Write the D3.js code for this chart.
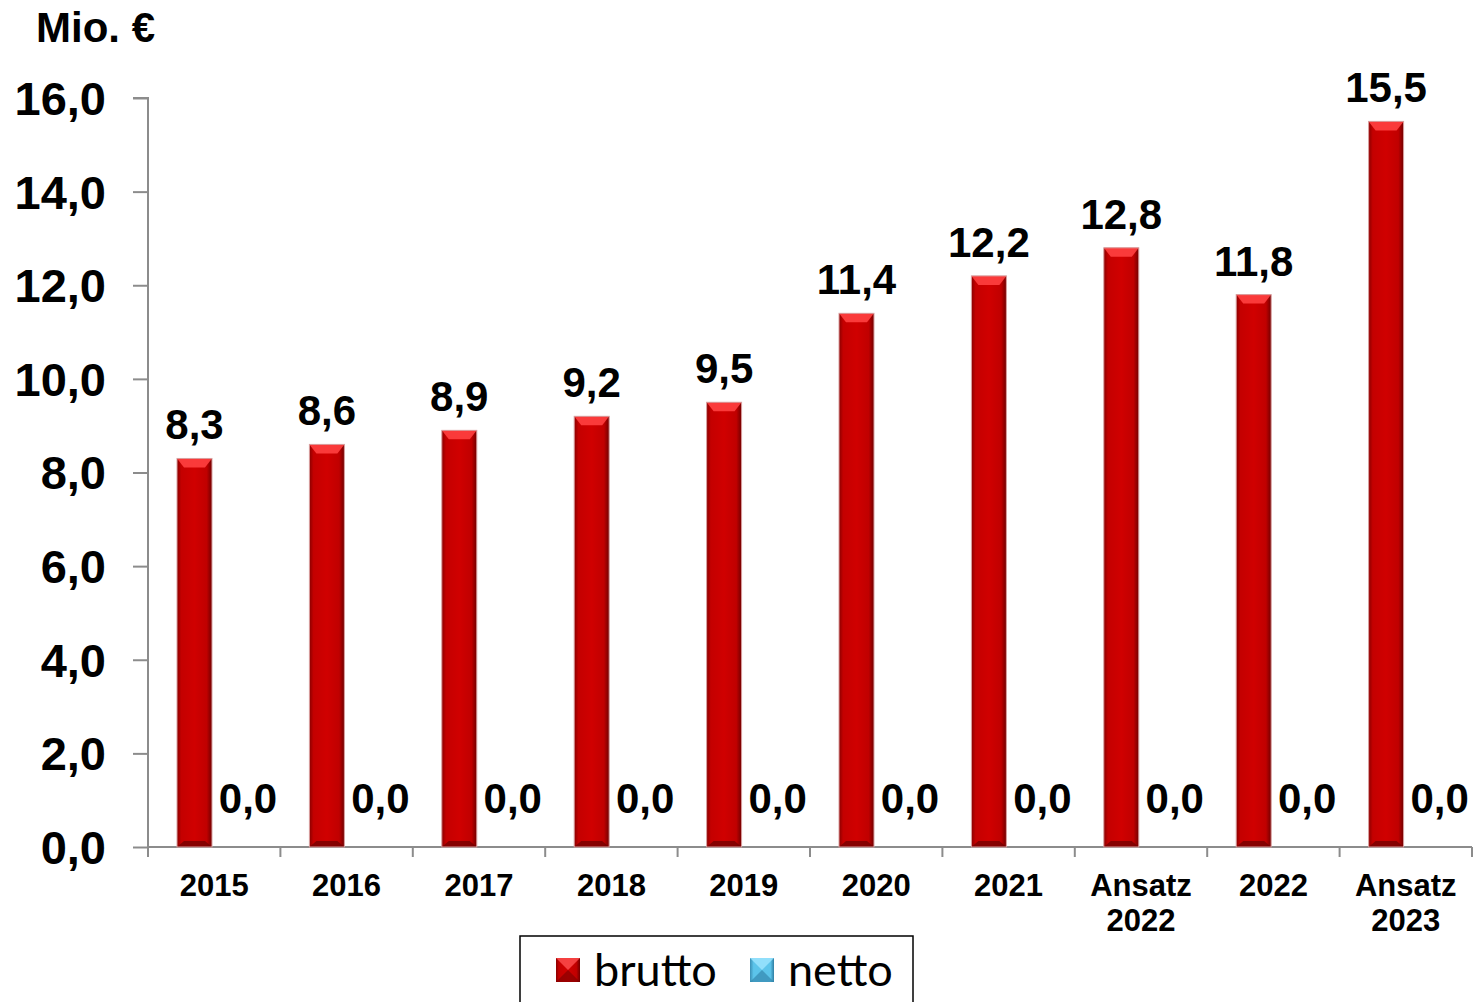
<!DOCTYPE html>
<html><head><meta charset="utf-8">
<script src="https://cdn.jsdelivr.net/npm/d3@7"></script>
<style>body{margin:0;background:#fff}svg{display:block}</style>
</head><body>
<svg id="c" width="1478" height="1002"></svg>
<script>
const categories = ["2015","2016","2017","2018","2019","2020","2021","Ansatz\n2022","2022","Ansatz\n2023"];
const brutto = [8.3,8.6,8.9,9.2,9.5,11.4,12.2,12.8,11.8,15.5];
const netto = [0,0,0,0,0,0,0,0,0,0];
const yTicks = [0,2,4,6,8,10,12,14,16];
const seriesNames = ["brutto","netto"];

(function(){
const svg = d3.select("#c");
const fmt = v => d3.format(".1f")(v).replace(".", ",");
const pLeft = 148, pRight = 1472, pTop = 98, pBottom = 847;
const FF = "'Liberation Sans', Arial, sans-serif";

const x = d3.scaleBand().domain(d3.range(categories.length)).range([pLeft, pRight]).padding(0);
const x1 = d3.scaleBand().domain(seriesNames).range([29, 118.5]).paddingInner(0.358).paddingOuter(0);
const y = d3.scaleLinear().domain([0,16]).range([pBottom, pTop]);

const defs = svg.append("defs");
function grad(id, stops){
  const g = defs.append("linearGradient").attr("id", id).attr("x1","0").attr("x2","1").attr("y1","0").attr("y2","0");
  stops.forEach(s => g.append("stop").attr("offset", s[0]).attr("stop-color", s[1]));
}
grad("gRed", [[0,"#8a0000"],[0.12,"#c40000"],[0.5,"#d00000"],[0.85,"#c00000"],[1,"#700000"]]);
grad("gBlue", [[0,"#3a8fb5"],[0.15,"#5cc4ea"],[0.85,"#5cc4ea"],[1,"#2f7ea3"]]);

// axes
const yAxis = d3.axisLeft(y).tickValues(yTicks).tickSize(15).tickFormat("");
const gy = svg.append("g").attr("transform", `translate(${pLeft},0)`).call(yAxis);
gy.selectAll("path,line").attr("stroke", "#8c8c8c").attr("stroke-width", 2);
gy.select(".domain").attr("d", `M-15,${pTop}H0V${pBottom}`);

svg.append("g").selectAll("text").data(yTicks).join("text")
  .attr("x", 106).attr("y", d => y(d)).attr("dy", "0.36em")
  .attr("text-anchor", "end")
  .style("font-family", FF).style("font-weight", "bold").style("font-size", "47px")
  .text(fmt);

const xg = svg.append("g");
xg.append("line").attr("x1", pLeft).attr("x2", pRight).attr("y1", pBottom).attr("y2", pBottom).attr("stroke", "#8c8c8c").attr("stroke-width", 2);
xg.selectAll("line.t").data(d3.range(categories.length + 1)).join("line").attr("class","t")
  .attr("x1", i => pLeft + i * x.step()).attr("x2", i => pLeft + i * x.step())
  .attr("y1", pBottom).attr("y2", pBottom + 10).attr("stroke", "#8c8c8c").attr("stroke-width", 2);

const xl = svg.append("g").selectAll("text").data(categories).join("text")
  .attr("text-anchor", "middle")
  .style("font-family", FF).style("font-weight", "bold").style("font-size", "31px");
xl.each(function(d, i){
  const lines = d.split("\n");
  const t = d3.select(this);
  lines.forEach((l, k) => t.append("tspan").attr("x", x(i) + x.bandwidth()/2).attr("y", 896 + k * 35).text(l));
});

// bars
const bw = x1.bandwidth();
function bar(g, x0, y0, h, fill, light){
  g.append("rect").attr("x", x0).attr("y", y0).attr("width", bw).attr("height", h).attr("fill", fill);
  if (h > 10) {
    g.append("path").attr("d", `M${x0},${y0}H${x0+bw}L${x0+bw-7},${y0+9}H${x0+7}Z`).attr("fill", light).attr("opacity", 0.9);
    g.append("path").attr("d", `M${x0},${y0+h}H${x0+bw}L${x0+bw-7},${y0+h-6}H${x0+7}Z`).attr("fill", "#6a0000").attr("opacity", 0.7);
    g.append("rect").attr("x", x0).attr("y", y0).attr("width", bw).attr("height", h).attr("fill", "none").attr("stroke", "#d9a0a0").attr("stroke-width", 1);
  }
}
const bg = svg.append("g");
brutto.forEach((v, i) => {
  const x0 = x(i) + x1("brutto");
  bar(bg, x0, y(v), y(0) - y(v), "url(#gRed)", "#ff4040");
});
netto.forEach((v, i) => {
  const x0 = x(i) + x1("netto");
  if (y(0) - y(v) > 0) bar(bg, x0, y(v), y(0) - y(v), "url(#gBlue)", "#a0e8ff");
});

// labels
const lf = g => g.style("font-family", FF).style("font-weight", "bold").style("font-size", "42px").attr("text-anchor", "middle");
svg.append("g").selectAll("text").data(brutto).join("text").call(lf)
  .attr("x", (d, i) => x(i) + x1("brutto") + bw/2).attr("y", d => y(d) - 19).text(fmt);
svg.append("g").selectAll("text").data(netto).join("text").call(lf)
  .attr("x", (d, i) => x(i) + x1("netto") + bw/2 - 1).attr("y", d => y(d) - 34).text(fmt);

svg.append("text").attr("x", 36).attr("y", 42)
  .style("font-family", FF).style("font-weight", "bold").style("font-size", "42px").text("Mio. €");

// legend
const lg = svg.append("g");
lg.append("rect").attr("x", 520).attr("y", 936).attr("width", 393).attr("height", 80).attr("fill", "#fff").attr("stroke", "#000").attr("stroke-width", 1.5);
const legItems = [{name: seriesNames[0], fill: "url(#gRed)", light: "#ff5050", dark: "#7a0000", x: 556}, {name: seriesNames[1], fill: "url(#gBlue)", light: "#9fe6ff", dark: "#2d7fa5", x: 750}];
legItems.forEach(it => {
  const s = 24, sx = it.x, sy = 958;
  lg.append("rect").attr("x", sx).attr("y", sy).attr("width", s).attr("height", s).attr("fill", it.fill);
  lg.append("path").attr("d", `M${sx},${sy}H${sx+s}L${sx+s/2},${sy+s/2}Z`).attr("fill", it.light).attr("opacity", 0.8);
  lg.append("path").attr("d", `M${sx},${sy+s}H${sx+s}L${sx+s/2},${sy+s/2}Z`).attr("fill", it.dark).attr("opacity", 0.6);
  lg.append("text").attr("x", sx + 38).attr("y", sy + 28).text(it.name)
    .style("font-family", "Lato, 'Open Sans', sans-serif").style("font-size", "45px");
});
})();
</script>
</body></html>
